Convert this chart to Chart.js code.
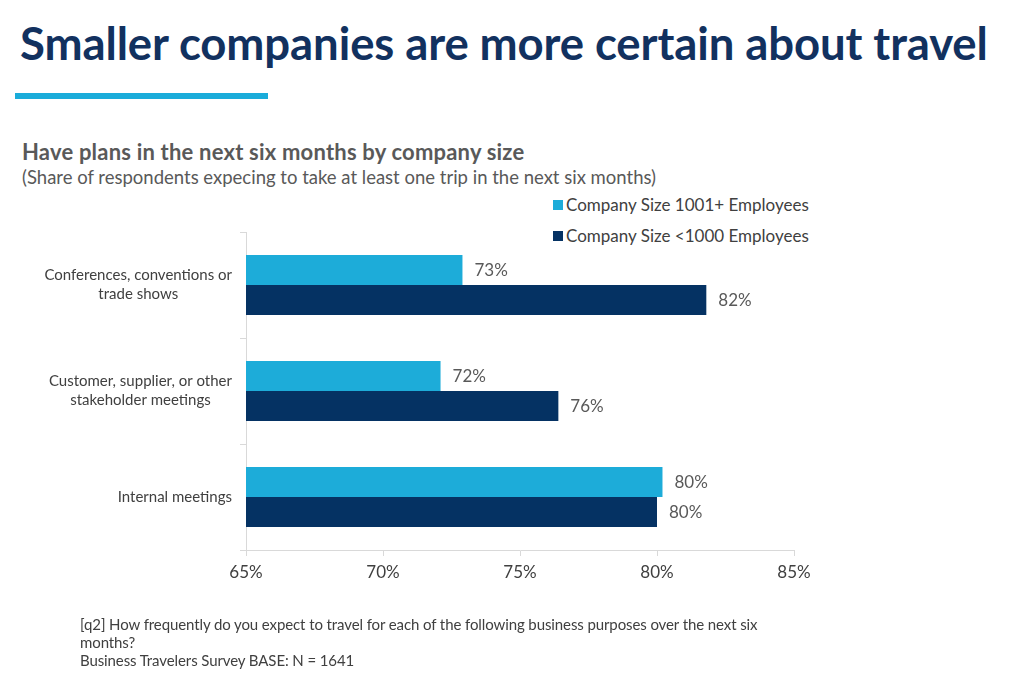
<!DOCTYPE html>
<html>
<head>
<meta charset="utf-8">
<script src="https://cdn.jsdelivr.net/npm/chart.js@4.4.1/dist/chart.umd.min.js"></script>
<style>
  html, body { margin: 0; padding: 0; background: #fff; }
  body { width: 1024px; height: 697px; position: relative; overflow: hidden; font-family: Lato, "Open Sans", sans-serif; }
  #title { position: absolute; left: 20px; top: 15px; font-size: 45.5px; font-weight: 700; color: #12315f; white-space: nowrap; letter-spacing: -0.1px; }
  #rule { position: absolute; left: 15px; top: 93px; width: 253px; height: 6px; background: #1aacda; }
  #subtitle { position: absolute; left: 22px; top: 138px; font-size: 22px; font-weight: 700; color: #595959; white-space: nowrap; letter-spacing: 0.2px; }
  #subnote { position: absolute; left: 22px; top: 166px; font-size: 18.5px; color: #595959; white-space: nowrap; }
  #legend { position: absolute; left: 553px; top: 189px; font-size: 17px; color: #404040; }
  #legend .item { height: 31px; display: flex; align-items: center; }
  #legend .box { width: 10px; height: 10px; margin-right: 3px; }
  #chartWrap { position: absolute; left: 0; top: 200px; width: 1024px; height: 420px; }
  #footer { position: absolute; left: 80px; top: 615px; font-size: 15px; color: #404040; line-height: 18px; letter-spacing: -0.1px; }
</style>
</head>
<body>
<div id="title">Smaller companies are more certain about travel</div>
<div id="rule"></div>
<div id="subtitle">Have plans in the next six months by company size</div>
<div id="subnote">(Share of respondents expecing to take at least one trip in the next six months)</div>
<div id="legend"></div>
<div id="chartWrap"><canvas id="travelChart"></canvas></div>
<div id="footer">[q2] How frequently do you expect to travel for each of the following business purposes over the next six<br>months?<br>Business Travelers Survey BASE: N = 1641</div>

<script>
// Categorias e valores
const categories = [
    ['Conferences, conventions or', 'trade shows'],
    ['Customer, supplier, or other', 'stakeholder meetings'],
    ['Internal meetings']
];
const seriesNames = ['Company Size 1001+ Employees', 'Company Size <1000 Employees'];
const largeCompanies = [72.9, 72.1, 80.2];
const smallCompanies = [81.8, 76.4, 80.0];
const xTicks = [65, 70, 75, 80, 85];

const colors = ['#1dacd9', '#053263'];

// Rótulos das categorias: bloco alinhado à direita, linhas centralizadas
const categoryLabels = {
    id: 'categoryLabels',
    afterDraw(chart) {
        const ctx = chart.ctx;
        const y = chart.scales.y;
        const right = y.right - 14;
        ctx.save();
        ctx.font = '15px Lato, sans-serif';
        ctx.fillStyle = '#404040';
        ctx.textAlign = 'center';
        ctx.textBaseline = 'middle';
        chart.data.labels.forEach((lines, i) => {
            const cy = y.getPixelForValue(i);
            const maxW = Math.max(...lines.map(l => ctx.measureText(l).width));
            const cx = right - maxW / 2;
            const lh = 19;
            const top = cy - (lines.length - 1) * lh / 2;
            lines.forEach((l, j) => ctx.fillText(l, cx, top + j * lh));
        });
        ctx.restore();
    }
};

// Valores no fim de cada barra
const valueLabels = {
    id: 'valueLabels',
    afterDatasetsDraw(chart) {
        const ctx = chart.ctx;
        ctx.save();
        ctx.font = '17px Lato, sans-serif';
        ctx.fillStyle = '#595959';
        ctx.textAlign = 'left';
        ctx.textBaseline = 'middle';
        chart.data.datasets.forEach((ds, di) => {
            chart.getDatasetMeta(di).data.forEach((bar, i) => {
                ctx.fillText(Math.round(ds.data[i]) + '%', bar.x + 12, bar.y + 1);
            });
        });
        ctx.restore();
    }
};

const chart = new Chart(document.getElementById('travelChart'), {
    type: 'bar',
    data: {
        labels: categories,
        datasets: [
            { label: seriesNames[0], data: largeCompanies, backgroundColor: colors[0] },
            { label: seriesNames[1], data: smallCompanies, backgroundColor: colors[1] }
        ]
    },
    options: {
        indexAxis: 'y',
        responsive: true,
        maintainAspectRatio: false,
        animation: false,
        layout: { padding: { top: 32, right: 230, bottom: 30, left: 0 } },
        datasets: { bar: { categoryPercentage: 0.566, barPercentage: 1 } },
        plugins: { legend: { display: false }, tooltip: { enabled: false } },
        scales: {
            x: {
                min: xTicks[0],
                max: xTicks[xTicks.length - 1],
                afterBuildTicks: s => { s.ticks = xTicks.map(v => ({ value: v })); },
                afterFit: s => { s.height = 40; },
                grid: { drawOnChartArea: false, color: '#d9d9d9', tickLength: 6 },
                border: { color: '#d9d9d9' },
                ticks: {
                    color: '#404040',
                    padding: 6,
                    font: { family: 'Lato', size: 17 },
                    callback: v => v + '%'
                }
            },
            y: {
                afterFit: s => { s.width = 246; },
                grid: { drawOnChartArea: false, color: '#d9d9d9', tickLength: 6, offset: true },
                border: { color: '#d9d9d9' },
                ticks: { display: false }
            }
        }
    },
    plugins: [categoryLabels, valueLabels]
});

// Legenda em HTML, empilhada
const legend = document.getElementById('legend');
chart.data.datasets.forEach(ds => {
    const item = document.createElement('div');
    item.className = 'item';
    item.innerHTML = `<span class="box" style="background:${ds.backgroundColor}"></span><span>${ds.label.replace('<', '&lt;')}</span>`;
    legend.appendChild(item);
});
</script>
</body>
</html>
